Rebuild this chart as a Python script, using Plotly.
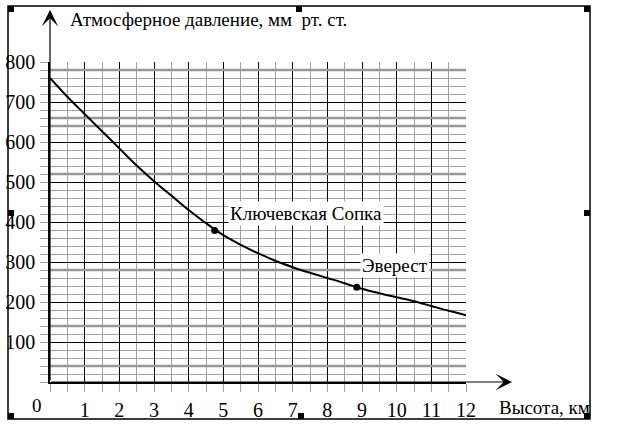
"""Атмосферное давление в зависимости от высоты (учебный график на миллиметровке)."""
import plotly.graph_objects as go

# ── Данные ────────────────────────────────────────────────────────────────────
visota_km = [0, 0.5, 1, 1.5, 2, 2.5, 3, 3.5, 4, 4.5, 5, 5.5, 6, 6.5, 7, 7.5, 8,
             8.5, 9, 9.5, 10, 10.5, 11, 11.5, 12]
davlenie_mm = [760, 713, 670, 627, 584, 541, 502, 466, 430, 397, 367, 343, 322,
               303, 287, 273, 260, 247, 233, 222, 212, 202, 190, 178, 167]

vershiny = ["Ключевская Сопка", "Эверест"]
vershiny_km = [4.75, 8.848]
vershiny_mm = [379, 237]

x_ticks = list(range(1, 13))
y_ticks = list(range(100, 900, 100))
tolstye_linii = [780, 660, 640, 520, 280, 140, 40]   # «жирные» серые линии сетки

# ── Геометрия страницы (пиксели) ─────────────────────────────────────────────
W, H = 617, 432
L, R, T, B = 50, 466, 62, 382
FONT = "Liberation Serif"
SERYJ = "#a0a0a0"


def px(x):   # пиксель -> paper x
    return (x - L) / (R - L)


def py(y):   # пиксель -> paper y
    return (B - y) / (B - T)


fig = go.Figure()

fig.add_trace(go.Scatter(
    x=visota_km, y=davlenie_mm, mode="lines",
    line=dict(color="black", width=2, shape="spline"),
    hoverinfo="skip", showlegend=False,
))
fig.add_trace(go.Scatter(
    x=vershiny_km, y=vershiny_mm, mode="markers",
    marker=dict(color="black", size=7),
    text=vershiny, hoverinfo="text", showlegend=False,
))

# подписи вершин на белом фоне
sdvig = [(5.13, 421), (8.94, 291)]
for name, (ax_, ay_) in zip(vershiny, sdvig):
    fig.add_annotation(x=ax_, y=ay_, text=name, showarrow=False,
                       xanchor="left", yanchor="middle", bgcolor="white",
                       font=dict(family=FONT, size=19, color="black"))

# толстые серые линии миллиметровки
for v in tolstye_linii:
    fig.add_shape(type="line", x0=0, x1=12, y0=v, y1=v, layer="between",
                  line=dict(color="#999999", width=2.5))

# оси со стрелками
fig.add_annotation(x=0, y=930, ax=0, ay=0, axref="x", ayref="y", text="",
                   showarrow=True, arrowhead=3, arrowsize=2.3, arrowwidth=1.2,
                   arrowcolor="black", standoff=0)
fig.add_annotation(x=13.33, y=0, ax=0, ay=0, axref="x", ayref="y", text="",
                   showarrow=True, arrowhead=3, arrowsize=2.3, arrowwidth=1.2,
                   arrowcolor="black", standoff=0)

# подписи осей и начала координат
txt = dict(showarrow=False, xref="paper", yref="paper", yanchor="middle",
           font=dict(family=FONT, size=19, color="black"))
fig.add_annotation(x=px(68), y=py(20), xanchor="left",
                   text="Атмосферное давление, мм\u00a0\u00a0рт. ст.", **txt)
fig.add_annotation(x=px(497), y=py(407), xanchor="left", text="Высота, км", **txt)
fig.add_annotation(x=px(37), y=py(405), xanchor="center", text="0", **txt)

# рамка объекта и маркеры выделения
fig.add_shape(type="rect", xref="paper", yref="paper",
              x0=px(8), x1=px(590), y0=py(419), y1=py(6),
              line=dict(color="black", width=1.5))
for hx, hy in [(8, 6), (296, 6), (584, 6), (8, 210), (584, 210),
               (8, 413), (298, 413), (584, 413)]:
    fig.add_shape(type="rect", xref="paper", yref="paper",
                  x0=px(hx), x1=px(hx + 6), y0=py(hy + 6), y1=py(hy),
                  line=dict(width=0), fillcolor="black")

osi = dict(showgrid=True, gridcolor="black", gridwidth=1,
           showline=True, linecolor="black", linewidth=1.5,
           ticks="outside", ticklen=8, tickcolor=SERYJ, tickwidth=1,
           zeroline=False, ticklabelstandoff=1, automargin=False,
           tickfont=dict(family=FONT, size=20, color="black"))

fig.update_xaxes(range=[0, 12], tickvals=x_ticks, ticktext=[str(v) for v in x_ticks],
                 minor=dict(dtick=0.5, showgrid=True, gridcolor=SERYJ, gridwidth=1,
                            ticks="outside", ticklen=8, tickcolor=SERYJ),
                 **osi)
fig.update_yaxes(range=[0, 800], tickvals=y_ticks, ticktext=[str(v) for v in y_ticks],
                 minor=dict(dtick=20, showgrid=True, gridcolor=SERYJ, gridwidth=1,
                            ticks="outside", ticklen=8, tickcolor=SERYJ),
                 **osi)

fig.update_layout(
    width=W, height=H,
    margin=dict(l=L, r=W - R, t=T, b=H - B, pad=0),
    paper_bgcolor="white", plot_bgcolor="white",
    showlegend=False,
)

fig.write_html("out.html", config={"displayModeBar": False},
               post_script="document.body.style.margin = '0';")
